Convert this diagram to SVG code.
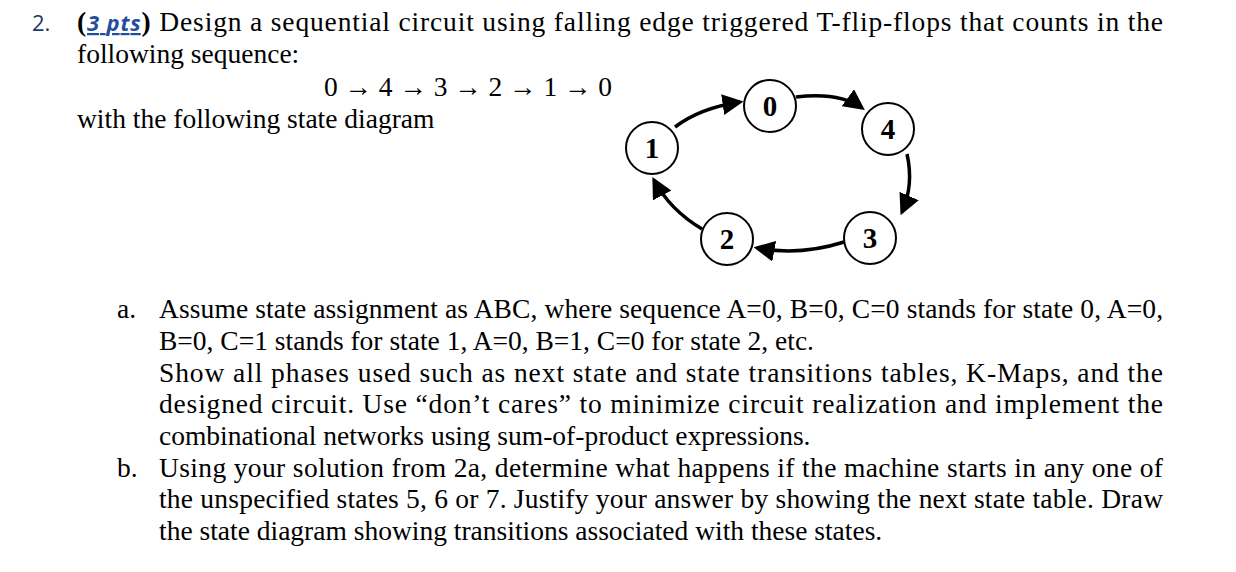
<svg xmlns="http://www.w3.org/2000/svg" width="1236" height="572" viewBox="0 0 1236 572">
<style>
text{font-family:"Liberation Serif",serif;font-size:27.5px;fill:#000}
.n{font-weight:bold;text-anchor:middle;font-size:29px}
.c{fill:#fff;stroke:#000;stroke-width:2}
.e{fill:none;stroke:#000;stroke-width:3.5}
</style>
<defs><marker id="a" markerWidth="6" markerHeight="6" refX="5" refY="3" orient="auto" markerUnits="strokeWidth"><path d="M0,0L6,3L0,6z" fill="#000"/></marker></defs>
<rect width="1236" height="572" fill="#fff"/>
<text x="32" y="31" style="font-family:'Open Sans',sans-serif;font-size:22px;fill:#1f3864">2.</text>
<text x="77" y="31" textLength="1086" lengthAdjust="spacing"><tspan font-weight="bold">(</tspan><tspan font-weight="bold" font-style="italic" text-decoration="underline" style="font-family:'Open Sans',sans-serif;font-size:22px;fill:#1f4e9c">3 pts</tspan><tspan font-weight="bold">)</tspan> Design a sequential circuit using falling edge triggered T-flip-flops that counts in the</text>
<text x="77" y="63">following sequence:</text>
<text x="324" y="96" textLength="288" lengthAdjust="spacing">0 → 4 → 3 → 2 → 1 → 0</text>
<text x="77" y="128">with the following state diagram</text>
<g id="connectors">
<path class="e" d="M675,127 Q700,108 740,102" marker-end="url(#a)"/>
<path class="e" d="M796,97 Q840,92 862,108" marker-end="url(#a)"/>
<path class="e" d="M907,154 Q914,185 902,212" marker-end="url(#a)"/>
<path class="e" d="M844,242 Q800,256 757,248" marker-end="url(#a)"/>
<path class="e" d="M702,229 Q670,210 654,180" marker-end="url(#a)"/>
</g>
<g id="s0"><circle class="c" cx="770" cy="106" r="26"/><text class="n" x="770" y="116">0</text></g>
<g id="s4"><circle class="c" cx="888" cy="129" r="26"/><text class="n" x="888" y="139">4</text></g>
<g id="s1"><circle class="c" cx="652" cy="148" r="26"/><text class="n" x="652" y="158">1</text></g>
<g id="s2"><circle class="c" cx="727" cy="239" r="26"/><text class="n" x="727" y="249">2</text></g>
<g id="s3"><circle class="c" cx="870" cy="238" r="26"/><text class="n" x="870" y="248">3</text></g>
<text x="117" y="318">a.</text>
<text x="159" y="318" textLength="1004" lengthAdjust="spacing">Assume state assignment as ABC, where sequence A=0, B=0, C=0 stands for state 0, A=0,</text>
<text x="159" y="350">B=0, C=1 stands for state 1, A=0, B=1, C=0 for state 2, etc.</text>
<text x="159" y="382" textLength="1004" lengthAdjust="spacing">Show all phases used such as next state and state transitions tables, K-Maps, and the</text>
<text x="159" y="413" textLength="1004" lengthAdjust="spacing">designed circuit. Use “don’t cares” to minimize circuit realization and implement the</text>
<text x="159" y="445">combinational networks using sum-of-product expressions.</text>
<text x="117" y="477">b.</text>
<text x="159" y="477" textLength="1004" lengthAdjust="spacing">Using your solution from 2a, determine what happens if the machine starts in any one of</text>
<text x="159" y="508" textLength="1004" lengthAdjust="spacing">the unspecified states 5, 6 or 7. Justify your answer by showing the next state table. Draw</text>
<text x="159" y="540">the state diagram showing transitions associated with these states.</text>
</svg>
